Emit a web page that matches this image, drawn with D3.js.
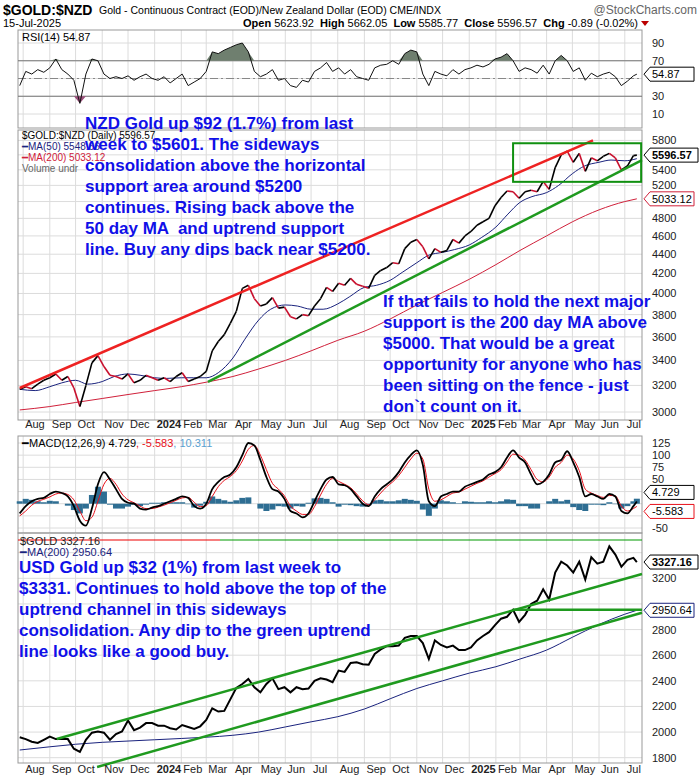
<!DOCTYPE html>
<html><head><meta charset="utf-8">
<script src="https://cdn.jsdelivr.net/npm/d3@7"></script>
<style>body{margin:0;background:#fff}svg{font-family:"Liberation Sans",Arial,sans-serif}</style>
</head><body><svg id="c" width="700" height="780"></svg>
<script>
// ---------- DATA ----------
const weekDates = ["2023-07-28","2023-08-04","2023-08-11","2023-08-18","2023-08-25","2023-09-01","2023-09-08","2023-09-15","2023-09-22","2023-09-29","2023-10-06","2023-10-13","2023-10-20","2023-10-27","2023-11-03","2023-11-10","2023-11-17","2023-11-24","2023-12-01","2023-12-08","2023-12-15","2023-12-22","2023-12-29",
"2024-01-05","2024-01-12","2024-01-19","2024-01-26","2024-02-02","2024-02-09","2024-02-16","2024-02-23","2024-03-01","2024-03-08","2024-03-15","2024-03-22","2024-03-29","2024-04-05","2024-04-12","2024-04-19","2024-04-26","2024-05-03","2024-05-10","2024-05-17","2024-05-24","2024-05-31","2024-06-07","2024-06-14","2024-06-21","2024-06-28","2024-07-05","2024-07-12","2024-07-19","2024-07-26","2024-08-02","2024-08-09","2024-08-16","2024-08-23","2024-08-30","2024-09-06","2024-09-13","2024-09-20","2024-09-27","2024-10-04","2024-10-11","2024-10-18","2024-10-25","2024-11-01","2024-11-08","2024-11-15","2024-11-22","2024-11-29","2024-12-06","2024-12-13","2024-12-20","2024-12-27",
"2025-01-03","2025-01-10","2025-01-17","2025-01-24","2025-01-31","2025-02-07","2025-02-14","2025-02-21","2025-02-28","2025-03-07","2025-03-14","2025-03-21","2025-03-28","2025-04-04","2025-04-11","2025-04-18","2025-04-25","2025-05-02","2025-05-09","2025-05-16","2025-05-23","2025-05-30","2025-06-06","2025-06-13","2025-06-20","2025-06-27","2025-07-04","2025-07-11","2025-07-15"];

const nzdClose = [3170,3190,3175,3210,3240,3260,3290,3240,3270,3180,3040,3200,3380,3440,3350,3280,3270,3250,3290,3220,3240,3280,3260,
3240,3260,3230,3270,3300,3230,3250,3270,3310,3480,3560,3620,3720,3830,4050,4080,3950,3880,3900,3960,3860,3870,3780,3760,3800,3790,3880,3950,4060,4020,4100,4080,4150,4090,4070,4050,4180,4230,4260,4310,4300,4460,4530,4560,4480,4350,4460,4420,4440,4560,4520,4600,
4650,4720,4760,4800,4950,5050,5130,5120,5040,5120,5140,5120,5250,5150,5430,5600,5650,5500,5620,5380,5560,5520,5580,5620,5560,5400,5450,5590,5596.57];

const rsi = [42,58,55,60,57,62,72,60,55,48,22,55,72,70,55,50,52,50,53,48,52,55,50,
48,52,45,50,55,42,46,50,58,80,78,82,85,88,90,80,58,52,55,60,48,50,42,40,48,46,58,62,68,58,62,55,60,52,50,48,62,65,66,70,66,78,82,80,55,42,58,55,53,60,55,60,
62,65,63,66,72,74,78,70,58,62,60,56,65,55,70,76,70,58,62,48,56,52,55,57,52,42,47,53,54.87];

const macd = [-20,-5,5,10,12,20,25,22,15,-5,-35,-45,-10,40,65,50,30,10,2,0,-10,-12,-8,
-5,0,5,10,15,12,-5,-10,0,30,45,55,60,75,100,125,120,90,55,30,25,10,-15,-20,-28,-20,5,30,50,55,40,38,30,15,0,-5,15,30,40,50,65,85,100,110,80,5,-5,15,20,25,25,35,
40,45,50,60,65,75,95,110,95,85,60,40,45,60,85,90,108,85,55,15,20,15,10,20,15,-15,-20,-5,4.729];

const macdSignal = [-25,-15,-3,5,9,14,20,22,19,8,-15,-35,-28,5,40,52,40,20,8,2,-5,-10,-10,
-7,-3,2,7,12,13,3,-6,-4,15,35,48,56,68,88,112,120,100,70,42,30,16,-5,-15,-22,-22,-6,18,40,52,46,40,33,20,6,-2,8,22,35,45,58,75,92,104,92,30,5,8,15,22,24,30,
36,42,47,55,62,70,86,102,100,90,70,50,45,55,75,85,100,92,68,30,22,17,13,17,16,-5,-15,-10,-5.583];

const usdClose = [1960,1945,1925,1915,1940,1965,1945,1945,1945,1870,1845,1940,1995,2005,1995,1940,1985,2005,2090,2015,2035,2070,2070,
2050,2050,2030,2020,2055,2040,2025,2045,2095,2185,2160,2165,2255,2345,2375,2415,2350,2310,2375,2420,2335,2350,2310,2350,2335,2340,2400,2420,2410,2390,2480,2470,2540,2545,2530,2525,2610,2645,2670,2670,2675,2735,2750,2750,2695,2570,2715,2680,2660,2675,2640,2640,
2660,2715,2750,2780,2835,2885,2900,2955,2860,2915,3000,3025,3115,3035,3245,3330,3300,3245,3330,3190,3365,3315,3330,3450,3385,3290,3345,3360,3327.16];

const nzdMA50Dates = ["2023-07-28","2023-08-15","2023-09-01","2023-09-15","2023-10-01","2023-10-15","2023-11-01","2023-11-15","2023-12-01","2023-12-15","2024-01-01","2024-01-15","2024-02-01","2024-02-15","2024-03-01","2024-03-15","2024-04-01","2024-04-15","2024-05-01","2024-05-15","2024-06-01","2024-06-15","2024-07-01","2024-07-15","2024-08-01","2024-08-15","2024-09-01","2024-09-15","2024-10-01","2024-10-15","2024-11-01","2024-11-15","2024-12-01","2024-12-15","2025-01-01","2025-01-15","2025-02-01","2025-02-15","2025-03-01","2025-03-15","2025-04-01","2025-04-15","2025-05-01","2025-05-15","2025-06-01","2025-06-15","2025-07-01","2025-07-15"];
const nzdMA50 = [3170,3160,3190,3220,3240,3210,3230,3270,3290,3280,3260,3255,3260,3260,3260,3300,3420,3580,3750,3850,3890,3880,3850,3850,3900,3970,4060,4080,4130,4210,4310,4390,4420,4450,4500,4580,4700,4850,4990,5060,5110,5200,5350,5450,5500,5530,5520,5548.66];

const maMonthDates = ["2023-07-28","2023-09-01","2023-10-01","2023-11-01","2023-12-01","2024-01-01","2024-02-01","2024-03-01","2024-04-01","2024-05-01","2024-06-01","2024-07-01","2024-08-01","2024-09-01","2024-10-01","2024-11-01","2024-12-01","2025-01-01","2025-02-01","2025-03-01","2025-04-01","2025-05-01","2025-06-01","2025-07-01","2025-07-15"];
const nzdMA200 = [3015,3040,3070,3100,3130,3160,3190,3225,3270,3330,3400,3480,3570,3650,3760,3890,4010,4140,4290,4440,4600,4760,4900,5000,5033.12];
const usdMA200 = [1860,1885,1905,1920,1930,1940,1950,1960,1975,2000,2040,2080,2120,2180,2260,2340,2400,2460,2510,2570,2640,2740,2840,2920,2950.64];

const rsiTicks = [10,30,50,70,90];
const nzdTicks = [3000,3200,3400,3600,3800,4000,4200,4400,4600,4800,5000,5200,5400,5600,5800];
const macdTicks = [-50,-25,0,25,50,75,100,125];
const usdTicks = [1800,2000,2200,2400,2600,2800,3000,3200,3400];

// annotation lines (date, value)
const nzdRedLine = [["2023-07-28",3180],["2025-05-25",5800]];
const nzdGreenLine = [["2024-03-03",3227],["2025-07-21",5530]];
const nzdBox = [["2025-02-21",5760],["2025-07-20",5245]];
const usdUpper = [["2023-09-09",1946],["2025-07-21",3234]];
const usdLower = [["2023-10-26",1727],["2025-07-21",2931]];
const usdHoriz = [["2025-02-21",2954],["2025-07-21",2954]];

const nzdText = ["NZD Gold up $92 (1.7%) from last","week to $5601. The sideways","consolidation above the horizontal","support area around $5200","continues. Rising back above the","50 day MA  and uptrend support","line. Buy any dips back near $5200."];
const nzdText2 = ["If that fails to hold the next major","support is the 200 day MA above","$5000. That would be a great","opportunity for anyone who has","been sitting on the fence - just","don`t count on it."];
const usdText = ["USD Gold up $32 (1%) from last week to","$3331. Continues to hold above the top of the","uptrend channel in this sideways","consolidation. Any dip to the green uptrend","line looks like a good buy."];

// ---------- DRAW ----------
const P = d3.timeParse("%Y-%m-%d");
const svg = d3.select("#c");
const L = 18, R = 642;
const x = d3.scaleTime().domain([P("2023-07-26"), P("2025-07-21")]).range([L, R]);
const panels = {
  rsi: {t: 30, b: 128}, nzd: {t: 130, b: 420}, macd: {t: 436, b: 533}, usd: {t: 533, b: 763}
};
const yR = d3.scaleLinear().domain([10, 90]).range([114, 43]);
const yN = d3.scaleLog().domain([3000, 5800]).range([412, 140.4]);
const yM = d3.scaleLinear().domain([-50, 125]).range([528, 443]);
const yU = d3.scaleLinear().domain([1800, 3400]).range([757.7, 552.7]);

const W = weekDates.map(P);
const months = d3.timeMonth.range(P("2023-08-01"), P("2025-07-21"));

function panel(p, scale, ticks, tagYs) {
  const g = svg.append("g");
  g.selectAll(".v").data(months).join("line").attr("x1", d => x(d)).attr("x2", d => x(d))
    .attr("y1", p.t).attr("y2", p.b).attr("stroke", "#dcdcdc");
  g.selectAll(".h").data(ticks).join("line").attr("x1", L).attr("x2", R)
    .attr("y1", d => scale(d)).attr("y2", d => scale(d)).attr("stroke", "#dcdcdc");
  g.selectAll(".t").data(ticks.filter(d => tagYs.every(ty => Math.abs(scale(d) - ty) > 11)))
    .join("text").attr("x", 652).attr("y", d => scale(d) + 4)
    .attr("font-size", 11).attr("fill", "#222").text(d => d);
  g.append("rect").attr("x", L).attr("y", p.t).attr("width", R - L).attr("height", p.b - p.t)
    .attr("fill", "none").attr("stroke", "#999");
  return g;
}
function monthLabels(y) {
  svg.append("g").selectAll("text").data(months).join("text")
    .attr("x", d => x(d) + 2).attr("y", y).attr("font-size", 11).attr("fill", "#222")
    .attr("font-weight", d => d.getMonth() === 0 ? "bold" : null)
    .text(d => d.getMonth() === 0 ? d3.timeFormat("%Y")(d) : d3.timeFormat("%b")(d));
}
function tag(y, txt, stroke, bold) {
  const w = bold ? 48 : 44;
  const g = svg.append("g");
  g.append("path").attr("d", `M644,${y} L650,${y-7} L${650+w},${y-7} L${650+w},${y+7} L650,${y+7} Z`)
    .attr("fill", "#fff").attr("stroke", stroke);
  g.append("text").attr("x", 652).attr("y", y + 4).attr("font-size", 11)
    .attr("font-weight", bold ? "bold" : null).attr("fill", "#000").text(txt);
}
function segLine(pts, sx, sy, color, w) {
  svg.append("line").attr("x1", x(P(pts[0][0]))).attr("y1", sy(pts[0][1]))
    .attr("x2", x(P(pts[1][0]))).attr("y2", sy(pts[1][1])).attr("stroke", color).attr("stroke-width", w);
}

// Header
svg.append("text").attr("x", 3).attr("y", 15).attr("font-size", 14).attr("font-weight", "bold").text("$GOLD:$NZD");
svg.append("text").attr("x", 99).attr("y", 14).attr("font-size", 10.5).text("Gold - Continuous Contract (EOD)/New Zealand Dollar (EOD)  CME/INDX");
svg.append("text").attr("x", 697).attr("y", 14).attr("font-size", 12).attr("text-anchor", "end").attr("fill", "#666").text("@StockCharts.com");
svg.append("text").attr("x", 3).attr("y", 27).attr("font-size", 11).text("15-Jul-2025");
const hdr = svg.append("text").attr("x", 638).attr("y", 27).attr("font-size", 11).attr("text-anchor", "end");
[["Open ", 1], ["5623.92  ", 0], ["High ", 1], ["5662.05  ", 0], ["Low ", 1], ["5585.77  ", 0], ["Close ", 1], ["5596.57  ", 0], ["Chg ", 1], ["-0.89 (-0.02%)", 0]]
  .forEach(([t, b]) => hdr.append("tspan").attr("font-weight", b ? "bold" : null).attr("xml:space", "preserve").text(t));
svg.append("path").attr("d", "M641,21 L649,21 L645,26 Z").attr("fill", "#b00");

// RSI panel
panel(panels.rsi, yR, rsiTicks, [yR(54.87)]);
[30, 70].forEach(v => svg.append("line").attr("x1", L).attr("x2", R).attr("y1", yR(v)).attr("y2", yR(v)).attr("stroke", "#777"));
svg.append("line").attr("x1", L).attr("x2", R).attr("y1", yR(50)).attr("y2", yR(50)).attr("stroke", "#888").attr("stroke-dasharray", "8,3,2,3");
svg.append("path").datum(rsi).attr("fill", "#6f7f6f")
  .attr("d", d3.area().x((d, i) => x(W[i])).y0(yR(70)).y1(d => yR(Math.max(d, 70))));
svg.append("path").datum(rsi).attr("fill", "#9b4f7b")
  .attr("d", d3.area().x((d, i) => x(W[i])).y0(yR(30)).y1(d => yR(Math.min(d, 30))));
svg.append("path").datum(rsi).attr("fill", "none").attr("stroke", "#111").attr("stroke-width", 1)
  .attr("d", d3.line().x((d, i) => x(W[i])).y(d => yR(d)));
svg.append("text").attr("x", 22).attr("y", 41).attr("font-size", 11).text("RSI(14) 54.87");
tag(yR(54.87), "54.87", "#000", false);

// NZD panel
panel(panels.nzd, yN, nzdTicks, [yN(5596.57), yN(5033.12)]);
svg.append("path").datum(nzdMA200).attr("fill", "none").attr("stroke", "#d0203a").attr("stroke-width", 1)
  .attr("d", d3.line().x((d, i) => x(P(maMonthDates[i]))).y(d => yN(d)).curve(d3.curveMonotoneX));
svg.append("path").datum(nzdMA50).attr("fill", "none").attr("stroke", "#1a237e").attr("stroke-width", 1)
  .attr("d", d3.line().x((d, i) => x(P(nzdMA50Dates[i]))).y(d => yN(d)).curve(d3.curveMonotoneX));
svg.append("g").selectAll("line").data(nzdClose.slice(1)).join("line")
  .attr("x1", (d, i) => x(W[i])).attr("x2", (d, i) => x(W[i + 1]))
  .attr("y1", (d, i) => yN(nzdClose[i])).attr("y2", d => yN(d))
  .attr("stroke", (d, i) => d < nzdClose[i] ? "#c8102e" : "#000").attr("stroke-width", 1.6);
segLine(nzdRedLine, x, yN, "#ee2222", 2.5);
segLine(nzdGreenLine, x, yN, "#1f9a1f", 2.5);
svg.append("rect").attr("x", x(P(nzdBox[0][0]))).attr("y", yN(nzdBox[0][1]))
  .attr("width", x(P(nzdBox[1][0])) - x(P(nzdBox[0][0]))).attr("height", yN(nzdBox[1][1]) - yN(nzdBox[0][1]))
  .attr("fill", "none").attr("stroke", "#109010").attr("stroke-width", 2);
const lg = svg.append("g").attr("font-size", 10);
lg.append("text").attr("x", 22).attr("y", 139).text("$GOLD:$NZD (Daily) 5596.57");
lg.append("text").attr("x", 22).attr("y", 150).attr("fill", "#1a237e").text("━MA(50) 5548.66");
lg.append("text").attr("x", 22).attr("y", 161).attr("fill", "#d0203a").text("━MA(200) 5033.12");
lg.append("text").attr("x", 22).attr("y", 172).attr("fill", "#666").text("Volume undr");
tag(yN(5033.12), "5033.12", "#d0203a", false);
tag(yN(5596.57), "5596.57", "#000", true);
monthLabels(428);

// MACD panel
panel(panels.macd, yM, macdTicks, [yM(4.729) - 3, yM(-5.583) + 5]);
svg.append("g").selectAll("rect").data(macd).join("rect")
  .attr("x", (d, i) => x(W[i]) - 3).attr("width", 6)
  .attr("y", (d, i) => Math.min(yM(0), yM(d - macdSignal[i])))
  .attr("height", (d, i) => Math.abs(yM(d - macdSignal[i]) - yM(0)))
  .attr("fill", "#2e6e93");
svg.append("path").datum(macdSignal).attr("fill", "none").attr("stroke", "#e8101a").attr("stroke-width", 1)
  .attr("d", d3.line().x((d, i) => x(W[i])).y(d => yM(d)).curve(d3.curveMonotoneX));
svg.append("path").datum(macd).attr("fill", "none").attr("stroke", "#000").attr("stroke-width", 1.8)
  .attr("d", d3.line().x((d, i) => x(W[i])).y(d => yM(d)).curve(d3.curveMonotoneX));
const mt = svg.append("text").attr("x", 22).attr("y", 447).attr("font-size", 11);
mt.append("tspan").text("━MACD(12,26,9) 4.729");
mt.append("tspan").attr("fill", "#e8101a").text(", -5.583");
mt.append("tspan").attr("fill", "#5aa0d0").text(", 10.311");
tag(yM(-5.583) + 5, "-5.583", "#e8101a", false);
tag(yM(4.729) - 9, "4.729", "#000", false);

// USD panel
panel(panels.usd, yU, usdTicks, [yU(3327.16), yU(2950.64)]);
svg.append("line").attr("x1", L).attr("x2", 220).attr("y1", 540).attr("y2", 540).attr("stroke", "#e00").attr("stroke-width", 1.2);
svg.append("line").attr("x1", 220).attr("x2", R).attr("y1", 540).attr("y2", 540).attr("stroke", "#090").attr("stroke-width", 1.2);
svg.append("path").datum(usdMA200).attr("fill", "none").attr("stroke", "#1a237e").attr("stroke-width", 1)
  .attr("d", d3.line().x((d, i) => x(P(maMonthDates[i]))).y(d => yU(d)).curve(d3.curveMonotoneX));
svg.append("path").datum(usdClose).attr("fill", "none").attr("stroke", "#000").attr("stroke-width", 2)
  .attr("d", d3.line().x((d, i) => x(W[i])).y(d => yU(d)));
segLine(usdUpper, x, yU, "#1f9a1f", 2.5);
segLine(usdLower, x, yU, "#1f9a1f", 2.5);
segLine(usdHoriz, x, yU, "#1f9a1f", 2.5);
svg.append("text").attr("x", 20).attr("y", 545).attr("font-size", 11).attr("fill", "#222").text("$GOLD 3327.16");
svg.append("text").attr("x", 20).attr("y", 556).attr("font-size", 11).attr("fill", "#1a237e").text("━MA(200) 2950.64");
tag(yU(3327.16), "3327.16", "#000", true);
tag(yU(2950.64), "2950.64", "#1a237e", false);
monthLabels(773);

// Annotation text
function block(lines, x0, y0) {
  svg.append("g").selectAll("text").data(lines).join("text")
    .attr("x", x0).attr("y", (d, i) => y0 + i * 21).attr("font-size", 17)
    .attr("font-weight", "bold").attr("fill", "#1010e8").attr("xml:space", "preserve").text(d => d);
}
block(nzdText, 85, 129);
block(nzdText2, 383, 307);
block(usdText, 19, 573);
</script></body></html>
